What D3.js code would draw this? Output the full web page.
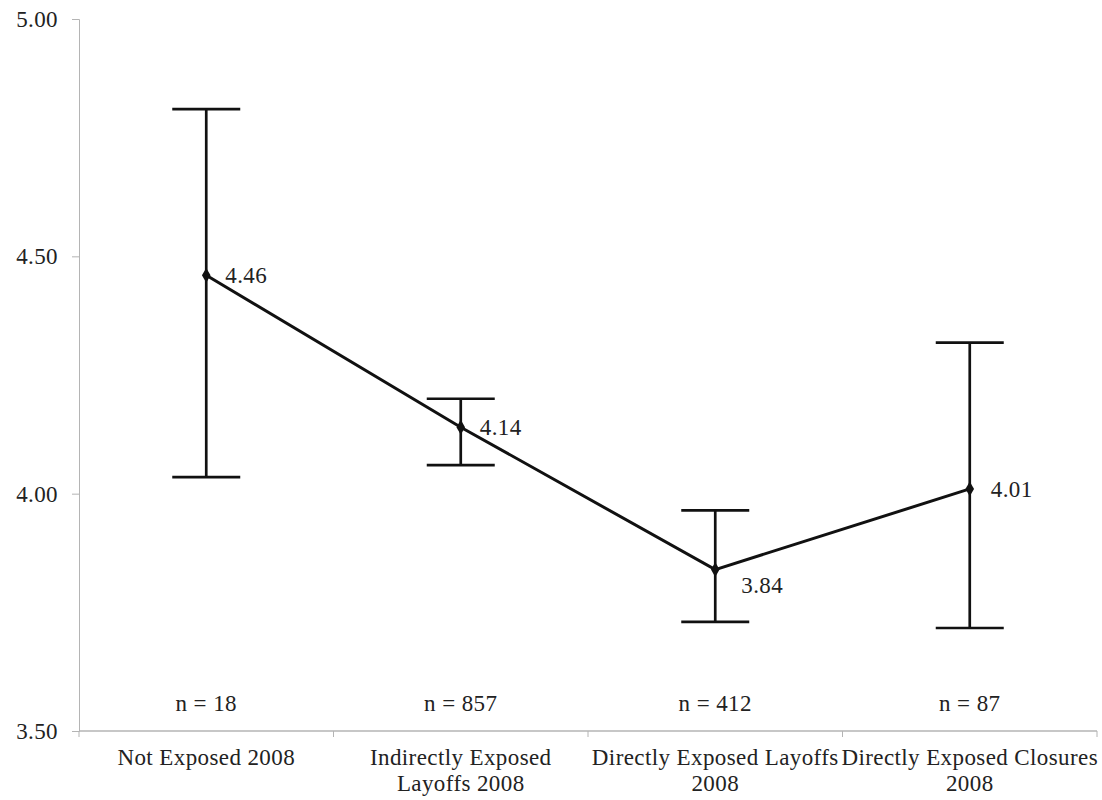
<!DOCTYPE html>
<html>
<head>
<meta charset="utf-8">
<script src="https://cdn.jsdelivr.net/npm/d3@7"></script>
<style>
	body { margin: 0; background: #fff; }
	svg text { font-family: "Liberation Serif", "DejaVu Serif", serif !important; fill: #222; letter-spacing: 0.4px; }
	.axis path, .axis line { stroke: #b4b4b4; }
</style>
</head>
<body>
<div id="chart"></div>
<script>
"use strict";

// Chart data
const categories = ['Not Exposed 2008', 'Indirectly Exposed Layoffs 2008', 'Directly Exposed Layoffs 2008', 'Directly Exposed Closures 2008'];
const categoryLines = [['Not Exposed 2008'], ['Indirectly Exposed', 'Layoffs 2008'], ['Directly Exposed Layoffs', '2008'], ['Directly Exposed Closures', '2008']];
const means = [4.46, 4.14, 3.84, 4.01];
const upper = [4.81, 4.20, 3.965, 4.318];
const lower = [4.035, 4.06, 3.73, 3.717];
const counts = [18, 857, 412, 87];
const yTicks = [3.5, 4.0, 4.5, 5.0];

const width = 1102, height = 800;
const margin = { top: 19, right: 5, bottom: 69, left: 79 };
const fontFamily = '"Liberation Serif", "DejaVu Serif", serif';
const fontSize = '23px';

let svg = d3.select('#chart').append('svg')
	.attr('width', width)
	.attr('height', height)
	.attr('font-family', fontFamily);

let x = d3.scaleBand()
	.domain(categories)
	.range([margin.left, width - margin.right]);

let y = d3.scaleLinear()
	.domain([3.5, 5.0])
	.range([height - margin.bottom, margin.top]);

//  Axes
let yAxis = svg.append('g')
	.classed('axis', true)
	.attr('transform', `translate(${margin.left},0)`)
	.call(d3.axisLeft(y).tickValues(yTicks).tickFormat(d3.format('.2f')).tickSizeOuter(0).tickSize(7).tickPadding(14));
yAxis.attr('font-family', fontFamily);
yAxis.selectAll('text').style('font-size', fontSize);

let xAxis = svg.append('g')
	.classed('axis', true)
	.attr('transform', `translate(0,${y(3.5)})`);
xAxis.append('line')
	.attr('x1', margin.left).attr('x2', width - margin.right)
	.attr('stroke-width', 1.5);
xAxis.selectAll('.bound')
	.data(categories.map(c => x(c)).concat([x(categories[categories.length - 1]) + x.bandwidth()]))
	.join('line')
	.classed('bound', true)
	.attr('x1', d => d).attr('x2', d => d)
	.attr('y1', 0).attr('y2', 6);

xAxis.selectAll('.cat')
	.data(categories)
	.join('text')
	.classed('cat', true)
	.attr('text-anchor', 'middle')
	.style('font-size', fontSize)
	.each(function(c, i) {
		d3.select(this).selectAll('tspan')
			.data(categoryLines[i])
			.join('tspan')
			.attr('x', x(c) + x.bandwidth() / 2)
			.attr('y', (d, j) => 34 + j * 26)
			.text(d => d);
	});

//  Error bars
let points = categories.map((c, i) => ({ cat: c, mean: means[i], hi: upper[i], lo: lower[i], n: counts[i] }));
let cx = d => x(d.cat) + x.bandwidth() / 2;
const capHalf = 34;

let bars = svg.append('g')
	.attr('stroke', '#111')
	.attr('stroke-width', 2.7);
bars.selectAll('.stem')
	.data(points)
	.join('line')
	.attr('x1', cx).attr('x2', cx)
	.attr('y1', d => y(d.hi)).attr('y2', d => y(d.lo));
bars.selectAll('.capHi')
	.data(points)
	.join('line')
	.attr('x1', d => cx(d) - capHalf).attr('x2', d => cx(d) + capHalf)
	.attr('y1', d => y(d.hi)).attr('y2', d => y(d.hi));
bars.selectAll('.capLo')
	.data(points)
	.join('line')
	.attr('x1', d => cx(d) - capHalf).attr('x2', d => cx(d) + capHalf)
	.attr('y1', d => y(d.lo)).attr('y2', d => y(d.lo));

//  Mean line and markers
svg.append('path')
	.datum(points)
	.attr('fill', 'none')
	.attr('stroke', '#111')
	.attr('stroke-width', 3)
	.attr('d', d3.line().x(cx).y(d => y(d.mean)));

svg.selectAll('.marker')
	.data(points)
	.join('path')
	.attr('d', d3.symbol(d3.symbolDiamond, 64))
	.attr('transform', d => `translate(${cx(d)},${y(d.mean)})`)
	.attr('fill', '#111');

//  Value labels
const labelOffsets = [[19, 8], [19, 8], [26, 23], [21, 8]];
svg.selectAll('.val')
	.data(points)
	.join('text')
	.attr('x', (d, i) => cx(d) + labelOffsets[i][0])
	.attr('y', (d, i) => y(d.mean) + labelOffsets[i][1])
	.style('font-size', fontSize)
	.text(d => d3.format('.2f')(d.mean));

//  Sample sizes
svg.selectAll('.count')
	.data(points)
	.join('text')
	.attr('x', cx)
	.attr('y', 711)
	.attr('text-anchor', 'middle')
	.style('font-size', fontSize)
	.text(d => `n = ${d.n}`);
</script>
</body>
</html>
